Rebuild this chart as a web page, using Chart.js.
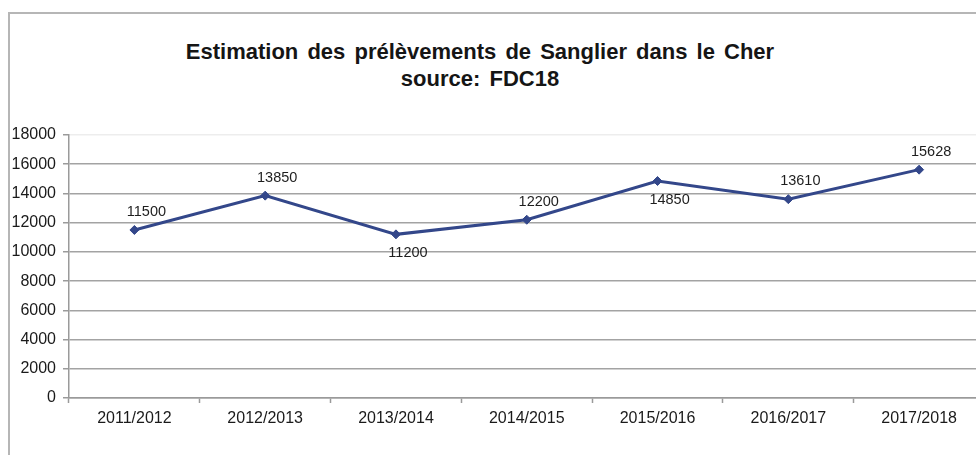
<!DOCTYPE html>
<html lang="fr">
<head>
<meta charset="utf-8">
<title>Prélèvements de Sanglier - Cher</title>
<script src="https://cdn.jsdelivr.net/npm/chart.js@4.4.1/dist/chart.umd.min.js"></script>
<style>
    html, body {
        margin: 0;
        padding: 0;
        background: #ffffff;
        overflow: hidden;
        width: 976px;
        height: 455px;
    }
    #frame {
        position: absolute;
        left: 8px;
        top: 12px;
        width: 1100px;
        height: 600px;
        border: 2px solid #b6b6b6;
    }
    #titre {
        position: absolute;
        left: 160px;
        width: 640px;
        top: 38px;
        text-align: center;
        font-family: "Liberation Sans", Arial, sans-serif;
        font-weight: bold;
        font-size: 22px;
        line-height: 27px;
        word-spacing: 3px;
        color: #151515;
    }
    #wrap {
        position: absolute;
        left: 0;
        top: 0;
        width: 990px;
        height: 455px;
    }
</style>
</head>
<body>
<div id="frame"></div>
<div id="titre">Estimation des prélèvements de Sanglier dans le Cher<br>source: FDC18</div>
<div id="wrap"><canvas id="chart-prelevements" width="990" height="455"></canvas></div>

<script>
// saisons de chasse
const saisons = ['2011/2012', '2012/2013', '2013/2014', '2014/2015', '2015/2016', '2016/2017', '2017/2018'];
// sangliers prélevés par saison
const prelevements = [11500, 13850, 11200, 12200, 14850, 13610, 15628];
// graduations de l'axe vertical
const yMin = 0;
const yMax = 18000;
const yPas = 2000;

const police = '"Liberation Sans", Arial, sans-serif';
const bleu = '#33478a';

// étiquettes de valeur à côté des points
const etiquettesPlugin = {
    id: 'etiquettes',
    afterDatasetsDraw(chart, args, opts) {
        const ctx = chart.ctx;
        const meta = chart.getDatasetMeta(0);
        const valeurs = chart.data.datasets[0].data;
        ctx.save();
        ctx.font = '14.5px ' + police;
        ctx.fillStyle = '#1e1e1e';
        ctx.textAlign = 'center';
        ctx.textBaseline = 'middle';
        meta.data.forEach((pt, i) => {
            const dessous = opts.dessous.includes(i);
            const dy = dessous ? opts.ecartBas : -opts.ecartHaut;
            ctx.fillText(String(valeurs[i]), pt.x + opts.decalage, pt.y + dy);
        });
        ctx.restore();
    }
};

const ctx = document.getElementById('chart-prelevements').getContext('2d');

const chart = new Chart(ctx, {
    type: 'line',
    data: {
        labels: saisons,
        datasets: [
            {
                label: 'Prélèvements',
                data: prelevements,
                borderColor: bleu,
                backgroundColor: bleu,
                borderWidth: 3,
                tension: 0,
                fill: false,
                pointStyle: 'rectRot',
                pointRadius: 4.5,
                pointHoverRadius: 4.5,
                pointBackgroundColor: bleu,
                pointBorderColor: bleu,
                pointBorderWidth: 1
            }
        ]
    },
    options: {
        responsive: false,
        animation: false,
        layout: {
            padding: { top: 135, right: 0, bottom: 0, left: 0 }
        },
        plugins: {
            legend: { display: false },
            title: { display: false },
            tooltip: { enabled: false },
            etiquettes: {
                dessous: [2, 4],
                decalage: 12,
                ecartHaut: 18,
                ecartBas: 19
            }
        },
        scales: {
            x: {
                offset: true,
                afterFit(scale) {
                    scale.height = 57;
                },
                grid: {
                    offset: true,
                    drawOnChartArea: false,
                    drawTicks: true,
                    tickLength: 5,
                    tickColor: '#9a9a9a',
                    tickWidth: 1.5
                },
                border: {
                    color: '#9a9a9a',
                    width: 1.5
                },
                ticks: {
                    color: '#1a1a1a',
                    padding: 6,
                    maxRotation: 0,
                    font: { family: police, size: 16 }
                }
            },
            y: {
                min: yMin,
                max: yMax,
                afterFit(scale) {
                    scale.width = 69;
                },
                grid: {
                    color: (c) => (c.tick && c.tick.value === yMax ? '#ededed' : '#a3a3a3'),
                    lineWidth: 1.5,
                    drawTicks: true,
                    tickLength: 6,
                    tickColor: '#9a9a9a',
                    tickWidth: 1.5
                },
                border: {
                    color: '#9a9a9a',
                    width: 1.5
                },
                ticks: {
                    stepSize: yPas,
                    color: '#1a1a1a',
                    padding: 7,
                    font: { family: police, size: 16 },
                    callback: (v) => String(v)
                }
            }
        }
    },
    plugins: [etiquettesPlugin]
});
</script>
</body>
</html>
